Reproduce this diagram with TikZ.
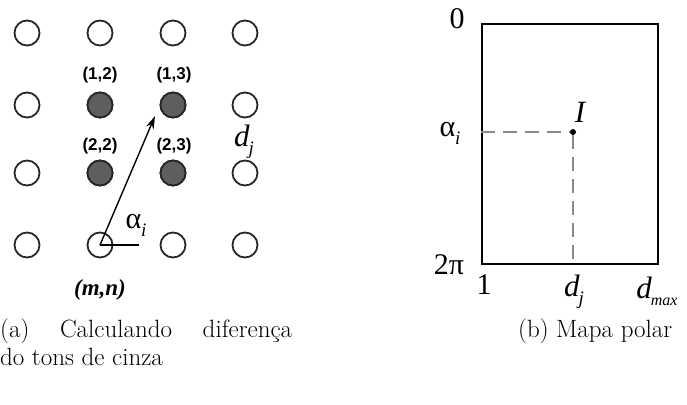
\documentclass[tikz,border=0pt]{standalone}
\usepackage{fontspec}
\newfontfamily\tms{Liberation Serif}
\newfontfamily\arl{Liberation Sans}
\usetikzlibrary{arrows.meta}
\definecolor{pixgray}{HTML}{5E5E5E}
\definecolor{dashgray}{HTML}{8A8A8A}
\tikzset{
  pix/.style={circle, draw=black!85, line width=1.8pt, minimum size=25pt, inner sep=0pt},
  pixon/.style={pix, fill=pixgray},
  idx/.style={font=\arl\bfseries\fontsize{17}{17}\selectfont, inner sep=0pt},
  sym/.style={font=\tms\fontsize{30}{30}\selectfont, inner sep=0pt},
  symit/.style={font=\tms\itshape\fontsize{31}{31}\selectfont, inner sep=0pt},
  dsh/.style={dashgray, line width=2.6pt, dash pattern=on 14pt off 8pt},
  captext/.style={font=\fontsize{25}{28}\selectfont, inner sep=0pt, anchor=base west, align=left}
}
\begin{document}
\begin{tikzpicture}[x=1pt,y=-1pt]
\useasboundingbox (0,0) rectangle (687,404);
% grid of pixels
\foreach \r/\yy in {1/33,2/105,3/173,4/245}{
  \foreach \c/\xx in {1/27,2/100,3/173,4/245}{
    \node[pix] (p\r\c) at (\xx,\yy) {};
  }
}
\node[pixon] (p22b) at (100,105) {};
\node[pixon] (p23b) at (173,105) {};
\node[pixon] (p32b) at (100,173) {};
\node[pixon] (p33b) at (173,173) {};
\node[idx] (l12) at (100,75) {(1,2)};
\node[idx] (l13) at (174,75) {(1,3)};
\node[idx] (l22) at (100,146) {(2,2)};
\node[idx] (l23) at (174,146) {(2,3)};
\node[symit] (dj1) at (244,142) {d\kern-1pt\raisebox{-8pt}{\fontsize{19}{19}\selectfont j}};
\node[sym] (al1) at (136,225) {α\raisebox{-8pt}{\itshape\fontsize{19}{19}\selectfont i}};
\node[inner sep=0pt, font=\tms\bfseries\itshape\fontsize{23}{23}\selectfont] (mn) at (100,290) {(m,n)};
\coordinate (tip) at (155,116);
\coordinate (hend) at (139,245);
\draw[line width=1.4pt, -{Stealth[length=13pt,width=8pt]}] (p42.center) -- (tip);
\draw[line width=1.6pt] (p42.center) -- (hend);
% polar map
\node[draw, line width=1.8pt, minimum width=176pt, minimum height=240pt, anchor=north west, inner sep=0pt] (map) at (481,23) {};
\node[circle, fill=black, inner sep=0pt, minimum size=6pt] (I) at (573,132) {};
\draw[dsh] (map.west |- I) -- (I);
\draw[dsh] (I) -- (I |- map.south);
\node[symit] (Il) at (580,112) {I};
\node[sym] (zero) at (457,19) {0};
\node[sym] (al2) at (450,133) {α\raisebox{-8pt}{\itshape\fontsize{19}{19}\selectfont i}};
\node[sym] (tpi) at (449,265) {2π};
\node[sym] (one) at (484,285) {1};
\node[symit] (dj2) at (574,292) {d\kern-1pt\raisebox{-8pt}{\fontsize{19}{19}\selectfont j}};
\node[symit] (dmax) at (657,291) {d\kern-1pt\raisebox{-7pt}{\fontsize{16}{16}\selectfont max}};
% captions
\node[captext] (capa) at (0,337) {\parbox[t]{292pt}{(a) Calculando diferença\linebreak do tons de cinza}};
\node[captext] (capb) at (518,337) {(b) Mapa polar};
\end{tikzpicture}
\end{document}
